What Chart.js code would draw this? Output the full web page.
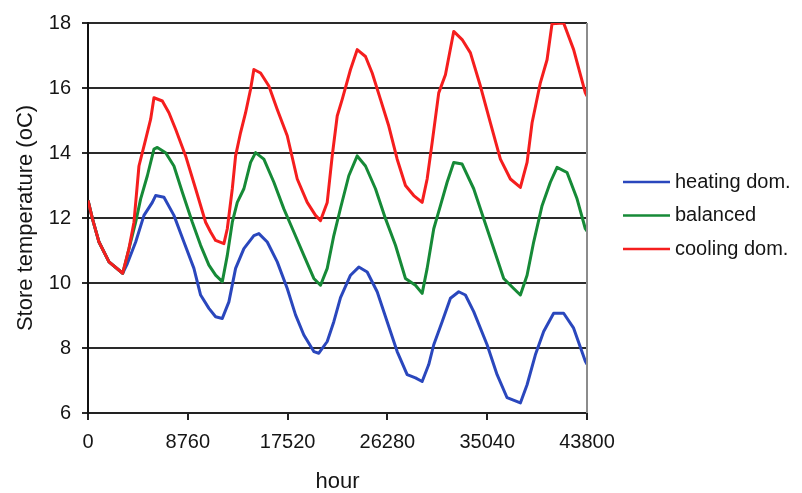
<!DOCTYPE html>
<html>
<head>
<meta charset="utf-8">
<script src="https://cdn.jsdelivr.net/npm/chart.js@4/dist/chart.umd.min.js"></script>
<style>
  html, body { margin: 0; padding: 0; background: #ffffff; }
  #wrap { width: 802px; height: 493px; position: relative; }
</style>
</head>
<body>
<div id="wrap"><canvas id="c" width="802" height="493"></canvas></div>
<script>
// ---- data ----
const xTickLabels = [0, 8760, 17520, 26280, 35040, 43800];
const yTickLabels = [6, 8, 10, 12, 14, 16, 18];
const seriesNames = ['heating dom.', 'balanced', 'cooling dom.'];

const heatingHours = [0, 386, 965, 1842, 3044, 3455, 4184, 4912, 5648, 5938, 6666, 7543, 8420, 9297, 9885, 10613, 11200, 11788, 12367, 12955, 13683, 14560, 14999, 15735, 16612, 17489, 18217, 18946, 19823, 20261, 20998, 21577, 22164, 23042, 23769, 24506, 25383, 26261, 27138, 28015, 28743, 29330, 29909, 30348, 31084, 31813, 32541, 33127, 33856, 35031, 35909, 36786, 37952, 38540, 39268, 39996, 40873, 41750, 42627, 43654, 43800];
const heatingTemps = [12.54, 11.98, 11.26, 10.65, 10.3, 10.6, 11.26, 12.08, 12.48, 12.69, 12.64, 12.08, 11.26, 10.45, 9.63, 9.22, 8.96, 8.91, 9.42, 10.45, 11.06, 11.46, 11.52, 11.26, 10.65, 9.83, 9.02, 8.4, 7.89, 7.84, 8.2, 8.81, 9.55, 10.24, 10.49, 10.34, 9.73, 8.81, 7.89, 7.18, 7.08, 6.97, 7.49, 8.1, 8.81, 9.53, 9.73, 9.63, 9.12, 8.1, 7.18, 6.47, 6.31, 6.87, 7.79, 8.51, 9.07, 9.07, 8.61, 7.59, 7.5];

const balancedHours = [0, 386, 965, 1842, 3044, 3307, 4184, 4622, 5209, 5789, 6087, 6815, 7543, 8280, 9157, 9885, 10613, 11200, 11788, 12227, 12666, 13104, 13683, 14270, 14709, 15437, 16314, 17191, 18068, 18946, 19823, 20410, 20998, 21577, 22164, 22892, 23629, 24357, 25234, 26112, 26989, 27866, 28743, 29330, 29769, 30348, 30935, 31522, 32102, 32839, 33856, 34733, 35611, 36488, 37365, 37952, 38540, 39119, 39855, 40583, 41170, 42048, 42925, 43654, 43800];
const balancedTemps = [12.54, 11.98, 11.26, 10.65, 10.3, 10.65, 11.87, 12.59, 13.3, 14.12, 14.17, 14.01, 13.6, 12.79, 11.87, 11.16, 10.55, 10.24, 10.04, 10.85, 11.87, 12.48, 12.9, 13.71, 14.01, 13.81, 13.1, 12.28, 11.57, 10.85, 10.14, 9.93, 10.45, 11.46, 12.3, 13.3, 13.91, 13.6, 12.9, 11.98, 11.16, 10.14, 9.93, 9.68, 10.45, 11.67, 12.38, 13.1, 13.71, 13.66, 12.9, 11.98, 11.06, 10.14, 9.83, 9.63, 10.24, 11.26, 12.38, 13.1, 13.56, 13.4, 12.59, 11.67, 11.6];

const coolingHours = [0, 386, 965, 1842, 3044, 3597, 4035, 4473, 5061, 5500, 5789, 6525, 7104, 7692, 8570, 9446, 10323, 10762, 11200, 11929, 12227, 12666, 12955, 13393, 13832, 14270, 14560, 15148, 15876, 16612, 17489, 18366, 19243, 19971, 20410, 20998, 21436, 21875, 22313, 23042, 23629, 24357, 24945, 25673, 26401, 27138, 27866, 28594, 29330, 29769, 30207, 30786, 31374, 32102, 32839, 33567, 34444, 35321, 36198, 37075, 37952, 38540, 38979, 39706, 40294, 40732, 41750, 42627, 43654, 43800];
const coolingTemps = [12.54, 11.98, 11.26, 10.65, 10.3, 11.06, 11.87, 13.6, 14.42, 15.04, 15.7, 15.6, 15.24, 14.73, 13.91, 12.9, 11.87, 11.57, 11.31, 11.21, 11.67, 12.9, 13.91, 14.63, 15.24, 15.96, 16.57, 16.46, 16.06, 15.34, 14.53, 13.2, 12.48, 12.08, 11.92, 12.48, 13.91, 15.14, 15.65, 16.57, 17.18, 16.97, 16.46, 15.65, 14.83, 13.81, 13.0, 12.69, 12.48, 13.2, 14.32, 15.85, 16.41, 17.74, 17.49, 17.08, 16.06, 14.93, 13.81, 13.2, 12.94, 13.71, 14.93, 16.16, 16.87, 17.98, 18.0, 17.18, 15.85, 15.75];

// ---- styles ----
const colors = ['#2a47bd', '#168a37', '#f51e1e'];
const FONT = '"Liberation Sans", Arial, sans-serif';
const TEXT = '#151515';

function toPoints(hours, temps) {
  return hours.map((h, i) => ({ x: h, y: temps[i] }));
}

const datasets = [
  { label: seriesNames[0], data: toPoints(heatingHours, heatingTemps), borderColor: colors[0], order: 3 },
  { label: seriesNames[1], data: toPoints(balancedHours, balancedTemps), borderColor: colors[1], order: 2 },
  { label: seriesNames[2], data: toPoints(coolingHours, coolingTemps), borderColor: colors[2], order: 1 }
].map(d => Object.assign(d, { borderWidth: 3, pointRadius: 0, tension: 0, fill: false, borderJoinStyle: 'round' }));

// right-hand legend and right border of plot area
const sideLegend = {
  id: 'sideLegend',
  afterDraw(chart) {
    const ctx = chart.ctx;
    const a = chart.chartArea;
    ctx.save();
    ctx.strokeStyle = '#8c8c8c';
    ctx.lineWidth = 2;
    ctx.beginPath();
    ctx.moveTo(a.right, a.top);
    ctx.lineTo(a.right, a.bottom);
    ctx.stroke();
    const x0 = 623, x1 = 670, tx = 675, y0 = 182, dy = 33.5;
    ctx.font = '20px ' + FONT;
    ctx.textBaseline = 'middle';
    ctx.textAlign = 'left';
    chart.data.datasets.forEach((ds, i) => {
      const y = y0 + i * dy;
      ctx.strokeStyle = ds.borderColor;
      ctx.lineWidth = 2.6;
      ctx.beginPath();
      ctx.moveTo(x0, y);
      ctx.lineTo(x1, y);
      ctx.stroke();
      ctx.fillStyle = TEXT;
      ctx.fillText(ds.label, tx, y);
    });
    ctx.restore();
  }
};

new Chart(document.getElementById('c'), {
  type: 'line',
  data: { datasets },
  plugins: [sideLegend],
  options: {
    responsive: false,
    animation: false,
    layout: { padding: { left: 0, right: 215, top: 21, bottom: 0 } },
    plugins: { legend: { display: false }, tooltip: { enabled: false } },
    scales: {
      x: {
        type: 'linear',
        min: 0,
        max: 43800,
        afterBuildTicks(scale) { scale.ticks = xTickLabels.map(v => ({ value: v })); },
        afterFit(scale) { scale.height = 80; },
        ticks: { color: TEXT, font: { family: FONT, size: 20 }, padding: 10, maxRotation: 0, autoSkip: false,
                 callback: v => String(v) },
        grid: { display: true, drawOnChartArea: false, drawTicks: true, tickLength: 7, color: '#222', lineWidth: 2 },
        border: { display: true, color: '#222', width: 2 },
        title: { display: true, text: 'hour', color: TEXT, font: { family: FONT, size: 22, lineHeight: 1 }, padding: { top: 0, bottom: 0 } }
      },
      y: {
        type: 'linear',
        min: 6,
        max: 18,
        afterBuildTicks(scale) { scale.ticks = yTickLabels.map(v => ({ value: v })); },
        afterFit(scale) { scale.width = 88; },
        ticks: { color: TEXT, font: { family: FONT, size: 20 }, padding: 11 },
        grid: { display: true, color: '#2a2a2a', lineWidth: 2, drawTicks: true, tickLength: 6 },
        border: { display: true, color: '#111', width: 2 },
        title: { display: true, text: 'Store temperature (oC)', color: TEXT, font: { family: FONT, size: 22, lineHeight: 1 }, padding: { top: 15, bottom: 0 } }
      }
    }
  }
});
</script>
</body>
</html>
